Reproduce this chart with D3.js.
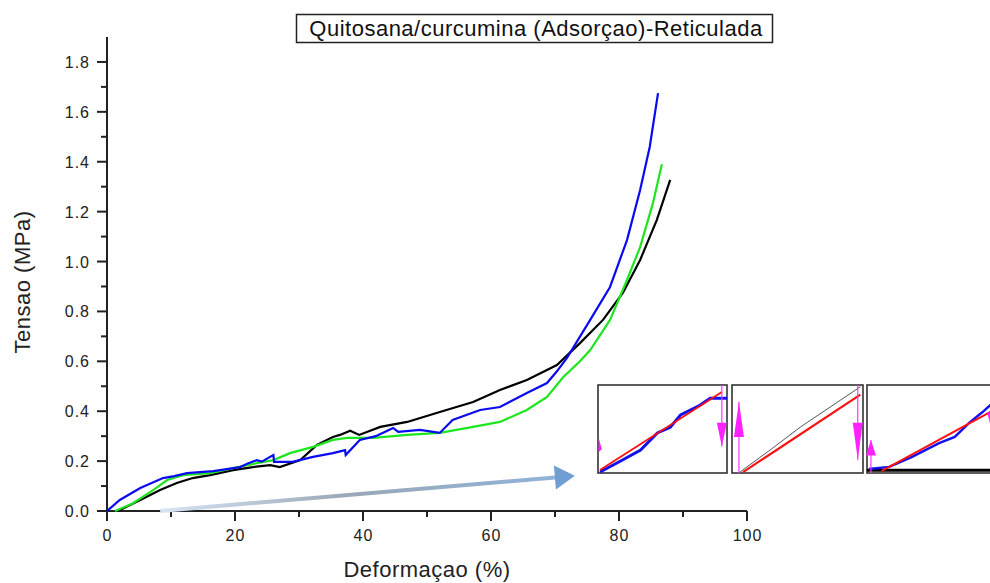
<!DOCTYPE html>
<html>
<head>
<meta charset="utf-8">
<script src="https://cdn.jsdelivr.net/npm/d3@7"></script>
<style>
body { margin: 0; background: #fff; }
text { font-family: "Liberation Sans", Arial, sans-serif; }
</style>
</head>
<body>
<div id="chart"></div>
<script>

// main curves, deformation (%) vs stress (MPa)
var blueX = [0, 2, 5.2, 8.75, 10.5, 12.5, 16.6, 20.8, 22, 23.4, 24.2, 25, 26, 26.1, 29, 32.2, 35.3, 37.2, 37.3, 39.5, 42, 44.7, 45.5, 48.9, 52, 54, 58.3, 61.4, 65.6, 68.75, 70.3, 71.9, 75.5, 78.6, 81.25, 83.3, 84.8, 86.1];
var blueY = [0, 0.044, 0.092, 0.132, 0.14, 0.152, 0.16, 0.176, 0.19, 0.204, 0.198, 0.21, 0.224, 0.197, 0.197, 0.217, 0.232, 0.244, 0.224, 0.285, 0.3, 0.333, 0.317, 0.325, 0.313, 0.365, 0.405, 0.417, 0.473, 0.513, 0.56, 0.615, 0.766, 0.898, 1.086, 1.287, 1.459, 1.675];

var greenX = [1.25, 4, 7.2, 9.4, 11.9, 16.1, 19.7, 23.4, 26, 28.6, 32.2, 35.3, 37.5, 41.6, 46.9, 52, 57.2, 61.4, 65.6, 68.75, 71.3, 73.9, 75.5, 78.6, 81.25, 83.3, 85.3, 86.7];
var greenY = [0, 0.03, 0.084, 0.124, 0.144, 0.152, 0.172, 0.192, 0.204, 0.232, 0.257, 0.285, 0.293, 0.293, 0.305, 0.313, 0.337, 0.357, 0.405, 0.457, 0.537, 0.6, 0.645, 0.766, 0.926, 1.058, 1.234, 1.39];

var blackX = [1.7, 5.2, 8.3, 10.9, 13.4, 16.1, 19.7, 22.8, 25.5, 27, 30.2, 32.8, 35.3, 36.4, 38, 39.4, 42.7, 46.9, 52, 57.2, 61.4, 65.6, 70.3, 73.9, 77.5, 80.6, 83.3, 85.9, 88];
var blackY = [0, 0.044, 0.084, 0.112, 0.132, 0.144, 0.164, 0.176, 0.184, 0.176, 0.204, 0.265, 0.297, 0.305, 0.322, 0.305, 0.337, 0.357, 0.397, 0.437, 0.485, 0.525, 0.585, 0.673, 0.766, 0.874, 1.006, 1.166, 1.327];

var xTicks = [0, 20, 40, 60, 80, 100];
var yTicks = [0, 0.2, 0.4, 0.6, 0.8, 1.0, 1.2, 1.4, 1.6, 1.8];

// annotation arrow (data units)
var arrowFrom = [8.3, 0.0];
var arrowTo = [73.1, 0.141];

// inset panels, normalised 0..1 inside each box
var inset1Blue = [[0.016, 0.011], [0.19, 0.148], [0.33, 0.26], [0.46, 0.455], [0.56, 0.52], [0.64, 0.66], [0.79, 0.77], [0.87, 0.85], [0.915, 0.85], [1, 0.85]];
var inset1Red = [[0.016, 0.034], [0.96, 0.92]];
var inset2Gray = [[0.06, 0.01], [0.29, 0.26], [0.52, 0.52], [0.83, 0.83], [0.98, 0.98]];
var inset2Red = [[0.084, 0.01], [0.98, 0.89]];
var inset3Blue = [[0.015, 0.045], [0.17, 0.07], [0.34, 0.18], [0.55, 0.34], [0.67, 0.41], [0.78, 0.57], [0.88, 0.69], [0.94, 0.77], [1, 0.85]];
var inset3Red = [[0.11, 0.02], [1, 0.74]];
var inset3Base = [[0, 0.03], [1, 0.03]];

var W = 990, H = 583;
var svg = d3.select("#chart").append("svg")
    .attr("width", W)
    .attr("height", H);

var x = d3.scaleLinear().domain([0, 100]).range([107, 747]);
var y = d3.scaleLinear().domain([0, 1.9]).range([511, 37]);

// title
svg.append("rect")
    .attr("x", 296.5).attr("y", 14.5)
    .attr("width", 476).attr("height", 28)
    .attr("fill", "none").attr("stroke", "#222").attr("stroke-width", 1.5);
svg.append("text")
    .attr("x", 536).attr("y", 36)
    .attr("text-anchor", "middle")
    .attr("font-size", "22px")
    .attr("letter-spacing", "0.5px")
    .attr("fill", "#111")
    .text("Quitosana/curcumina (Adsorçao)-Reticulada");

// axes
var axisColor = "#222";
var gx = svg.append("g");
gx.append("line")
    .attr("x1", x(0)).attr("x2", x(100))
    .attr("y1", y(0)).attr("y2", y(0))
    .attr("stroke", axisColor).attr("stroke-width", 2);
gx.selectAll(".minor").data(d3.range(0, 101, 10)).enter().append("line")
    .attr("x1", function(d) { return x(d); }).attr("x2", function(d) { return x(d); })
    .attr("y1", y(0)).attr("y2", function(d) { return d % 20 == 0 ? y(0) + 10 : y(0) + 6; })
    .attr("stroke", axisColor).attr("stroke-width", 2);
gx.selectAll(".lab").data(xTicks).enter().append("text")
    .attr("x", function(d) { return x(d) + 0.5; })
    .attr("y", 541)
    .attr("text-anchor", "middle")
    .attr("font-size", "16px")
    .attr("letter-spacing", "1px")
    .attr("fill", "#222")
    .text(function(d) { return d; });

var gy = svg.append("g");
gy.append("line")
    .attr("x1", x(0)).attr("x2", x(0))
    .attr("y1", y(1.9)).attr("y2", y(0))
    .attr("stroke", axisColor).attr("stroke-width", 2);
gy.selectAll(".minor").data(d3.range(0, 19)).enter().append("line")
    .attr("x1", x(0)).attr("x2", function(d) { return d % 2 == 0 ? x(0) - 10 : x(0) - 6; })
    .attr("y1", function(d) { return y(d / 10); }).attr("y2", function(d) { return y(d / 10); })
    .attr("stroke", axisColor).attr("stroke-width", 2);
gy.selectAll(".lab").data(yTicks).enter().append("text")
    .attr("x", 90)
    .attr("y", function(d) { return y(d) + 6; })
    .attr("text-anchor", "end")
    .attr("font-size", "16px")
    .attr("letter-spacing", "1px")
    .attr("fill", "#222")
    .text(d3.format(".1f"));

svg.append("text")
    .attr("x", 427).attr("y", 577)
    .attr("text-anchor", "middle")
    .attr("font-size", "22px")
    .attr("letter-spacing", "0.5px")
    .attr("fill", "#222")
    .text("Deformaçao (%)");
svg.append("text")
    .attr("transform", "translate(30,282) rotate(-90)")
    .attr("text-anchor", "middle")
    .attr("font-size", "22px")
    .attr("letter-spacing", "0.5px")
    .attr("fill", "#222")
    .text("Tensao (MPa)");

// arrow with fading gradient
var defs = svg.append("defs");
var grad = defs.append("linearGradient")
    .attr("id", "arrowGrad")
    .attr("gradientUnits", "userSpaceOnUse")
    .attr("x1", x(arrowFrom[0])).attr("y1", y(arrowFrom[1]))
    .attr("x2", x(arrowTo[0])).attr("y2", y(arrowTo[1]));
grad.append("stop").attr("offset", "0").attr("stop-color", "#d6e4f4");
grad.append("stop").attr("offset", "0.45").attr("stop-color", "#9aa8b8");
grad.append("stop").attr("offset", "1").attr("stop-color", "#8fb4dc");

var ax0 = x(arrowFrom[0]), ay0 = y(arrowFrom[1]);
var ax1 = x(arrowTo[0]), ay1 = y(arrowTo[1]);
var ang = Math.atan2(ay1 - ay0, ax1 - ax0);
var headLen = 20, headHalf = 12;
var bx = ax1 - headLen * Math.cos(ang), by = ay1 - headLen * Math.sin(ang);
svg.append("line")
    .attr("x1", ax0).attr("y1", ay0)
    .attr("x2", bx).attr("y2", by)
    .attr("stroke", "url(#arrowGrad)")
    .attr("stroke-width", 4);
svg.append("path")
    .attr("d", "M" + ax1 + "," + ay1 +
        "L" + (bx - headHalf * Math.sin(ang)) + "," + (by + headHalf * Math.cos(ang)) +
        "L" + (bx + headHalf * Math.sin(ang)) + "," + (by - headHalf * Math.cos(ang)) + "Z")
    .attr("fill", "#6f9fd2");

// curves
var line = d3.line()
    .x(function(d) { return x(d[0]); })
    .y(function(d) { return y(d[1]); });

function pairs(xs, ys) { return xs.map(function(v, i) { return [v, ys[i]]; }); }

svg.append("path").datum(pairs(blackX, blackY))
    .attr("d", line).attr("fill", "none").attr("stroke", "#000").attr("stroke-width", 2.2);
svg.append("path").datum(pairs(greenX, greenY))
    .attr("d", line).attr("fill", "none").attr("stroke", "#1ee61e").attr("stroke-width", 2.2);
svg.append("path").datum(pairs(blueX, blueY))
    .attr("d", line).attr("fill", "none").attr("stroke", "#0a0af0").attr("stroke-width", 2.2);

// insets
var boxTop = 385, boxH = 88;
var boxes = [
    { left: 598, w: 129 },
    { left: 732, w: 131 },
    { left: 867, w: 131 }
];

function inset(i) {
    var b = boxes[i];
    var sx = d3.scaleLinear().domain([0, 1]).range([b.left, b.left + b.w]);
    var sy = d3.scaleLinear().domain([0, 1]).range([boxTop + boxH, boxTop]);
    var g = svg.append("g");
    g.append("rect")
        .attr("x", b.left).attr("y", boxTop)
        .attr("width", b.w).attr("height", boxH)
        .attr("fill", "#fff").attr("stroke", "#333").attr("stroke-width", 1.6);
    var l = d3.line().x(function(d) { return sx(d[0]); }).y(function(d) { return sy(d[1]); });
    return { g: g, sx: sx, sy: sy, l: l };
}

function marker(p, xv, lineFrom, base, apex) {
    p.g.append("line")
        .attr("x1", p.sx(xv)).attr("x2", p.sx(xv))
        .attr("y1", p.sy(lineFrom)).attr("y2", p.sy(apex))
        .attr("stroke", "#ff33ff").attr("stroke-width", 1.2);
    var cx = p.sx(xv);
    p.g.append("path")
        .attr("d", "M" + (cx - 5) + "," + p.sy(base) + "L" + (cx + 5) + "," + p.sy(base) + "L" + cx + "," + p.sy(apex) + "Z")
        .attr("fill", "#ff22ff");
}

var p1 = inset(0);
p1.g.append("path").datum(inset1Blue).attr("d", p1.l).attr("fill", "none").attr("stroke", "#1010f0").attr("stroke-width", 3);
p1.g.append("path").datum(inset1Red).attr("d", p1.l).attr("fill", "none").attr("stroke", "#ff1010").attr("stroke-width", 1.8);
marker(p1, 0.96, 1, 0.57, 0.3);
p1.g.append("path")
    .attr("d", "M" + p1.sx(0.005) + "," + p1.sy(0.4) + "L" + p1.sx(0.03) + "," + p1.sy(0.27) + "L" + p1.sx(0.005) + "," + p1.sy(0.24) + "Z")
    .attr("fill", "#ff22ff");

var p2 = inset(1);
p2.g.append("path").datum(inset2Gray).attr("d", p2.l).attr("fill", "none").attr("stroke", "#555").attr("stroke-width", 1);
p2.g.append("path").datum(inset2Red).attr("d", p2.l).attr("fill", "none").attr("stroke", "#ff1010").attr("stroke-width", 2.2);
marker(p2, 0.053, 0, 0.41, 0.81);
marker(p2, 0.96, 1, 0.57, 0.15);

var p3 = inset(2);
p3.g.append("path").datum(inset3Base).attr("d", p3.l).attr("fill", "none").attr("stroke", "#000").attr("stroke-width", 3);
p3.g.append("path").datum(inset3Blue).attr("d", p3.l).attr("fill", "none").attr("stroke", "#1010f0").attr("stroke-width", 2.4);
p3.g.append("path").datum(inset3Red).attr("d", p3.l).attr("fill", "none").attr("stroke", "#ff1010").attr("stroke-width", 2);
marker(p3, 0.03, 0, 0.2, 0.375);
marker(p3, 0.955, 1, 0.69, 0.47);

</script>
</body>
</html>
